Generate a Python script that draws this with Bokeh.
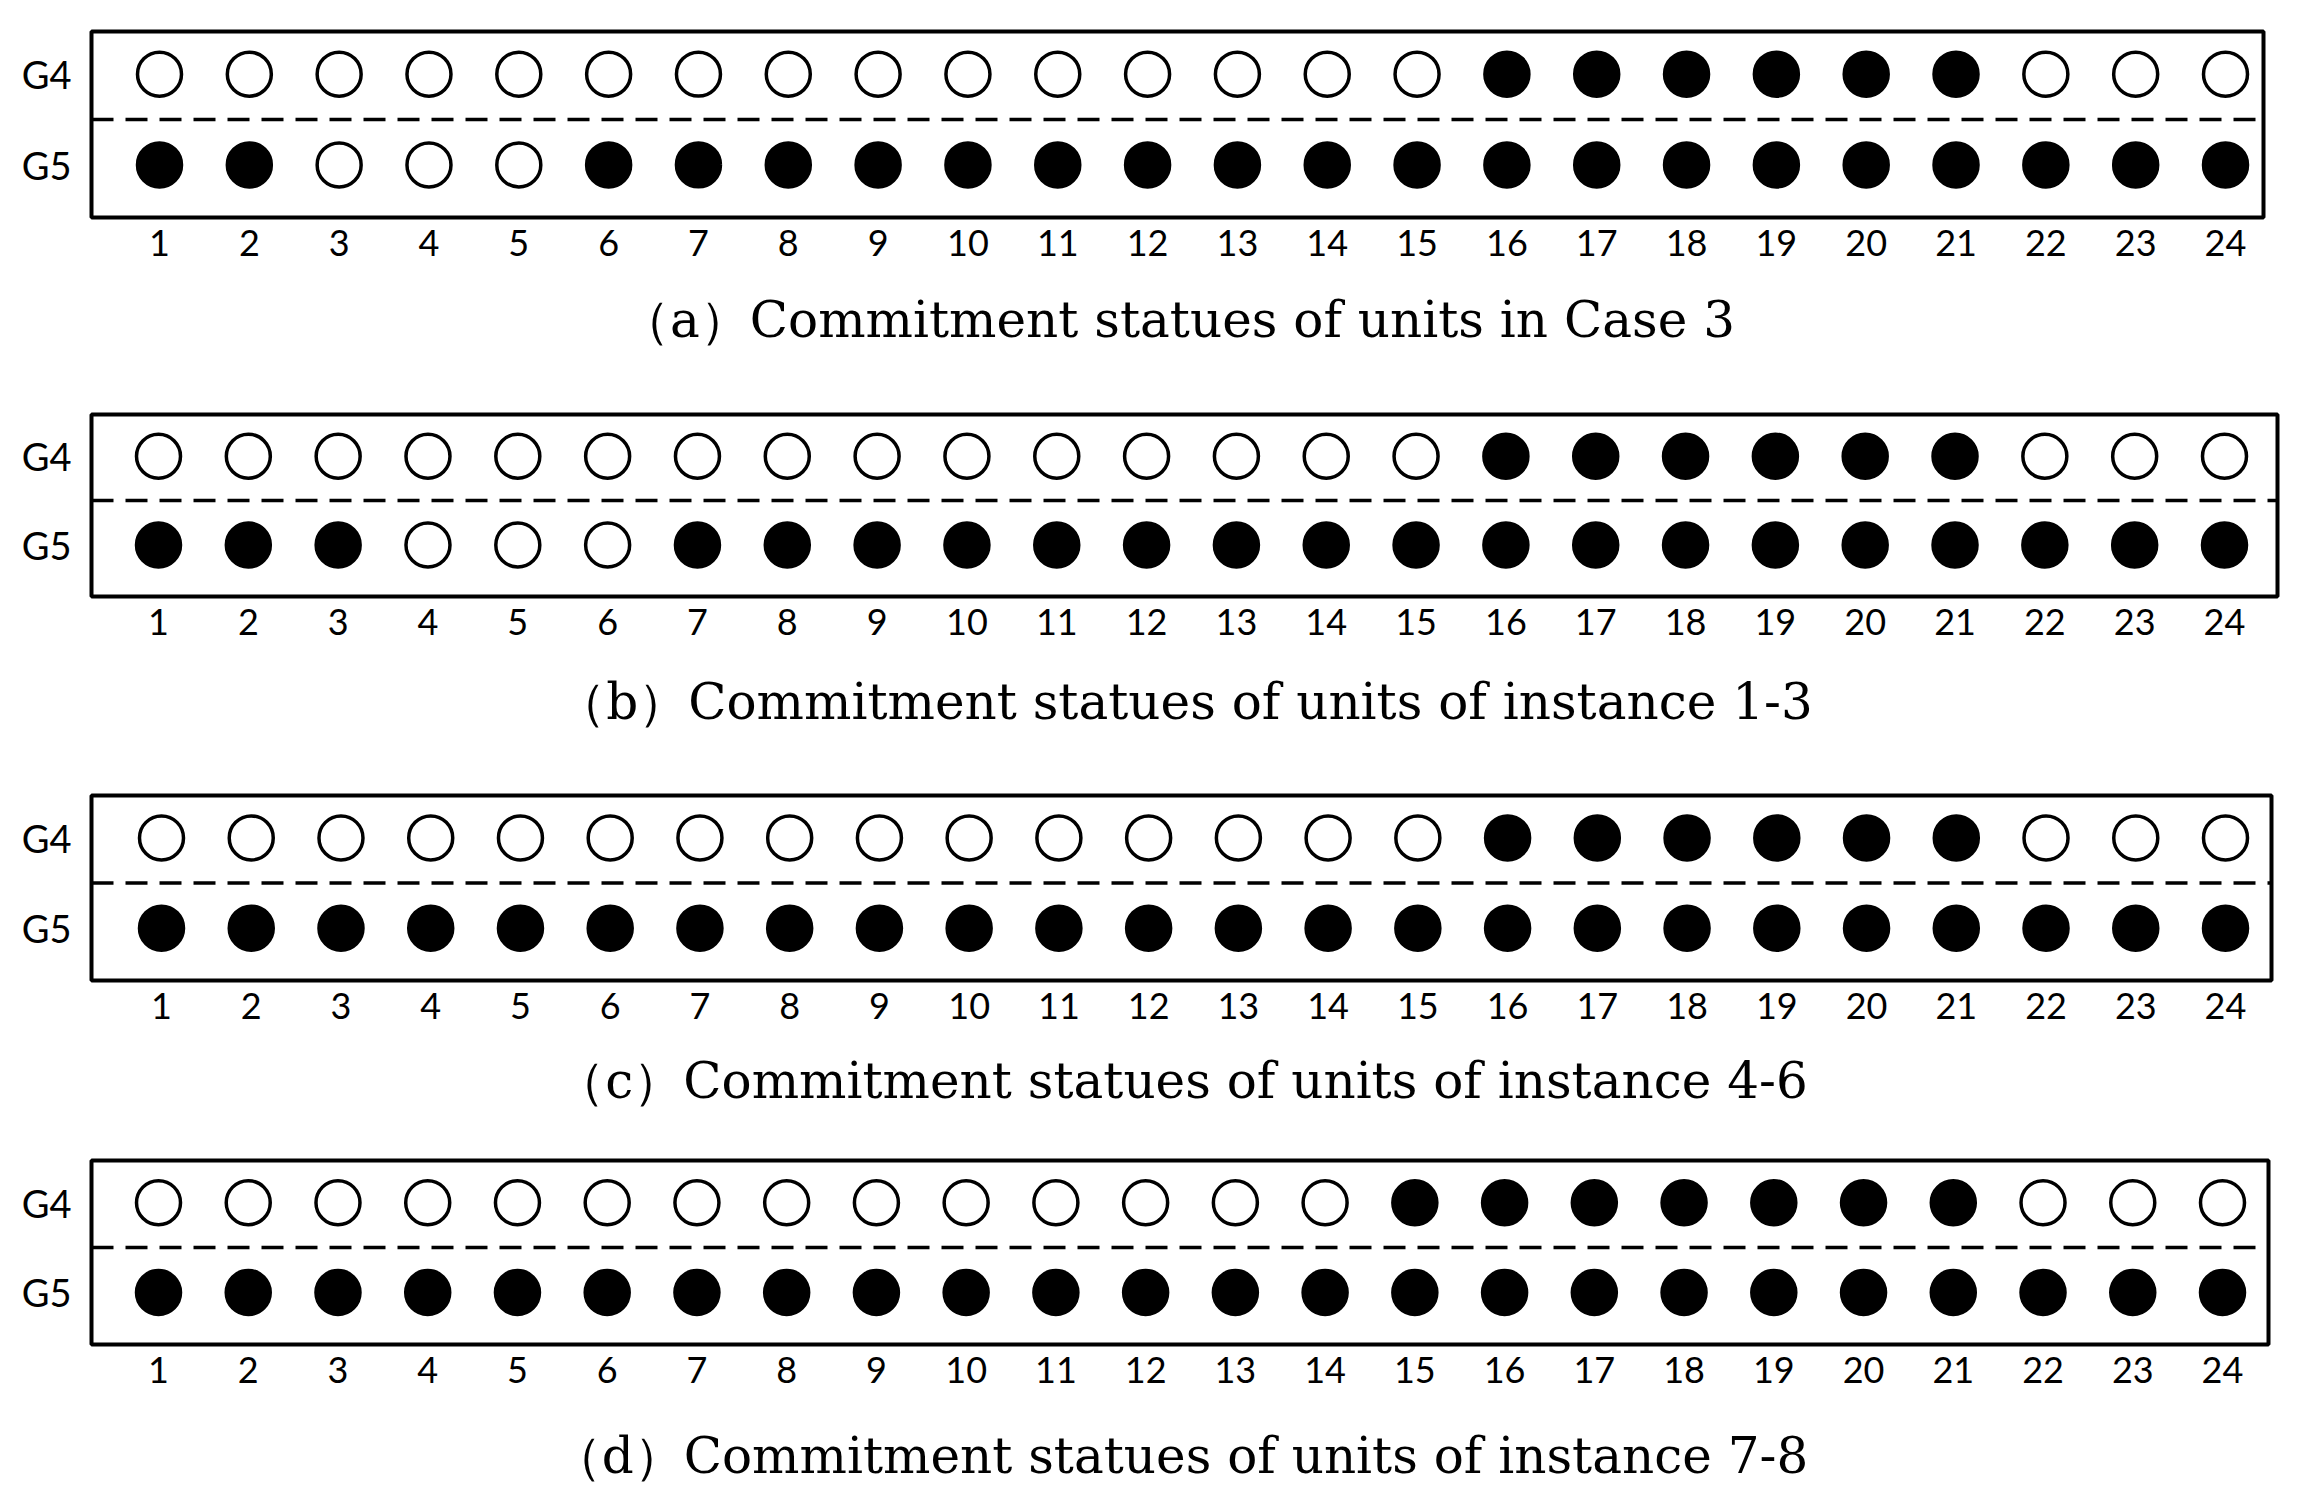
from bokeh.plotting import figure
from bokeh.layouts import column
from bokeh.models import ColumnDataSource, Span, FixedTicker, Range1d
from bokeh.embed import file_html
from bokeh.resources import INLINE

# ---------------- data ----------------
hours = [1, 2, 3, 4, 5, 6, 7, 8, 9, 10, 11, 12, 13, 14, 15, 16, 17, 18, 19, 20, 21, 22, 23, 24]
unit_labels = ["G5", "G4"]

g4_a = [0, 0, 0, 0, 0, 0, 0, 0, 0, 0, 0, 0, 0, 0, 0, 1, 1, 1, 1, 1, 1, 0, 0, 0]
g5_a = [1, 1, 0, 0, 0, 1, 1, 1, 1, 1, 1, 1, 1, 1, 1, 1, 1, 1, 1, 1, 1, 1, 1, 1]
g4_b = [0, 0, 0, 0, 0, 0, 0, 0, 0, 0, 0, 0, 0, 0, 0, 1, 1, 1, 1, 1, 1, 0, 0, 0]
g5_b = [1, 1, 1, 0, 0, 0, 1, 1, 1, 1, 1, 1, 1, 1, 1, 1, 1, 1, 1, 1, 1, 1, 1, 1]
g4_c = [0, 0, 0, 0, 0, 0, 0, 0, 0, 0, 0, 0, 0, 0, 0, 1, 1, 1, 1, 1, 1, 0, 0, 0]
g5_c = [1, 1, 1, 1, 1, 1, 1, 1, 1, 1, 1, 1, 1, 1, 1, 1, 1, 1, 1, 1, 1, 1, 1, 1]
g4_d = [0, 0, 0, 0, 0, 0, 0, 0, 0, 0, 0, 0, 0, 0, 1, 1, 1, 1, 1, 1, 1, 0, 0, 0]
g5_d = [1, 1, 1, 1, 1, 1, 1, 1, 1, 1, 1, 1, 1, 1, 1, 1, 1, 1, 1, 1, 1, 1, 1, 1]

captions = [
    "（a）Commitment statues of units in Case 3",
    "（b）Commitment statues of units of instance 1-3",
    "（c）Commitment statues of units of instance 4-6",
    "（d）Commitment statues of units of instance 7-8",
]
panels = [(g4_a, g5_a), (g4_b, g5_b), (g4_c, g5_c), (g4_d, g5_d)]

# ---------------- layout (page pixels) ----------------
# frame_left, frame_right, frame_top, frame_bottom, tick1_x, tick24_x, fig_top, fig_bottom, caption standoff
layout = [
    (99, 2271, 39, 225, 167, 2233, 8, 395, 32),
    (87, 2273, 422, 604, 154, 2220, 395, 775, 35),
    (95, 2275, 803, 988, 165, 2229, 775, 1140, 30),
    (98, 2275, 1168, 1352, 165, 2229, 1140, 1494, 41),
]
PAGE_RIGHT = 2300

figs = []
for (g4, g5), cap, (fl, fr, ft, fb, t1, t24, gt, gb, cs) in zip(panels, captions, layout):
    u = (t24 - t1) / (len(hours) - 1)
    x0 = hours[0] - (t1 - fl) / u
    x1 = hours[-1] + (fr - t24) / u
    p = figure(
        output_backend="svg", toolbar_location=None,
        frame_width=fr - fl, frame_height=fb - ft,
        min_border_left=fl - 8, min_border_right=PAGE_RIGHT - fr,
        min_border_top=ft - gt, min_border_bottom=gb - fb,
        x_range=Range1d(x0, x1), y_range=Range1d(-0.58, 1.47),
        background_fill_color="white", border_fill_color="white",
    )
    p.outline_line_color = "black"
    p.outline_line_width = 4
    p.outline_line_alpha = 1
    p.xgrid.visible = False
    p.ygrid.visible = False

    xs = hours + hours
    ys = [1] * len(hours) + [0] * len(hours)
    states = g4 + g5
    fills = ["black" if s else "white" for s in states]
    src = ColumnDataSource(dict(x=xs, y=ys, fill=fills))
    p.scatter("x", "y", source=src, marker="circle", size=44,
              fill_color="fill", line_color="black", line_width=3.5)

    p.add_layout(Span(location=0.5, dimension="width", line_color="black",
                      line_width=3.5, line_dash="22 12"))

    xa = p.xaxis[0]
    xa.ticker = FixedTicker(ticks=hours)
    xa.axis_line_color = None
    xa.major_tick_line_color = None
    xa.minor_tick_line_color = None
    xa.major_label_text_font = "Lato"
    xa.major_label_text_font_size = "36px"
    xa.major_label_text_color = "black"
    xa.major_label_standoff = 6
    xa.axis_label = cap
    xa.axis_label_text_font = "DejaVu Serif"
    xa.axis_label_text_font_style = "normal"
    xa.axis_label_text_font_size = "50px"
    xa.axis_label_text_color = "black"
    xa.axis_label_standoff = cs

    ya = p.yaxis[0]
    ya.ticker = FixedTicker(ticks=[0, 1])
    ya.major_label_overrides = {0: unit_labels[0], 1: unit_labels[1]}
    ya.axis_line_color = None
    ya.major_tick_line_color = None
    ya.minor_tick_line_color = None
    ya.major_label_text_font = "Lato"
    ya.major_label_text_font_size = "38px"
    ya.major_label_text_color = "black"
    ya.major_label_standoff = 14
    figs.append(p)

layout_col = column(*figs, spacing=0)
open("out.html", "w").write(file_html(layout_col, INLINE))
